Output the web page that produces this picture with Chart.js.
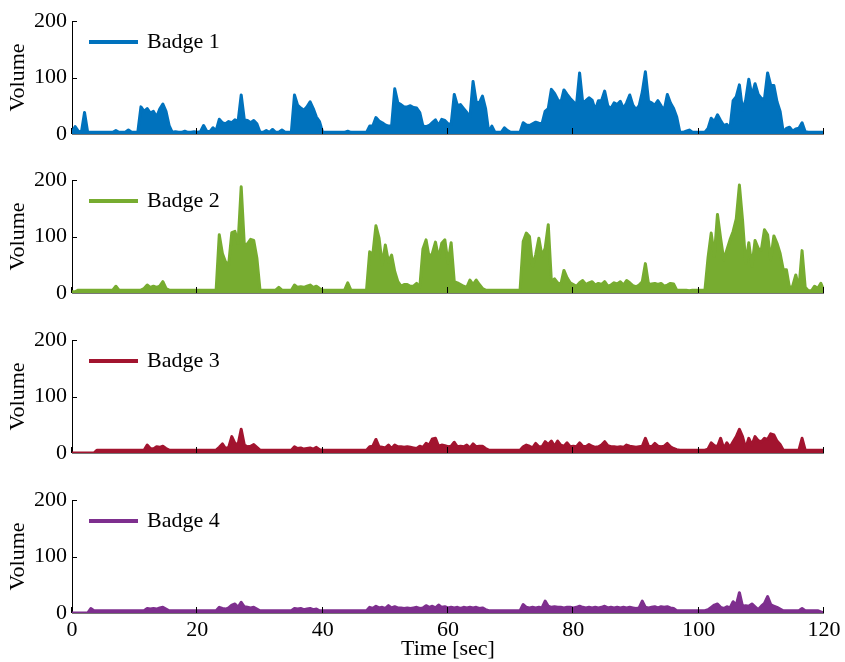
<!DOCTYPE html>
<html>
<head>
<meta charset="utf-8">
<title>Badge volume</title>
<script src="https://cdn.jsdelivr.net/npm/chart.js@4.4.1/dist/chart.umd.min.js"></script>
<style>
  body { margin: 0; background: #fff; }
  #wrap { position: relative; width: 845px; height: 662px; overflow: hidden; }
  #wrap canvas { position: absolute; left: 0; }
</style>
</head>
<body>
<div id="wrap"></div>
<script>
// one sample every 0.5 s, 0..120 s
const times = Array.from({ length: 241 }, (_, i) => i * 0.5);
const xTicks = [0, 20, 40, 60, 80, 100, 120];
const yTicks = [0, 100, 200];

const badgeNames = ["Badge 1", "Badge 2", "Badge 3", "Badge 4"];
const badgeColors = ["#0072BD", "#77AC30", "#A2142F", "#7E2F8E"];

const badge1 = [
  3, 13, 5, 3, 38, 3, 3, 3, 3, 3, 3, 3, 3, 3, 6, 3, 3, 3, 7, 3,
  3, 3, 48, 40, 45, 37, 40, 30, 44, 53, 40, 15, 3, 4, 3, 3, 5, 3, 3, 4,
  3, 4, 15, 5, 4, 11, 6, 26, 20, 18, 22, 20, 25, 22, 69, 25, 24, 20, 24, 18,
  3, 3, 6, 3, 8, 3, 3, 7, 3, 3, 3, 69, 51, 46, 42, 48, 57, 45, 30, 22,
  3, 3, 3, 3, 3, 3, 3, 3, 5, 3, 3, 3, 3, 3, 3, 14, 14, 29, 23, 20,
  16, 14, 14, 80, 55, 52, 48, 48, 50, 47, 46, 38, 14, 13, 15, 20, 25, 15, 26, 24,
  18, 17, 70, 50, 52, 45, 38, 30, 93, 57, 55, 67, 45, 3, 14, 3, 3, 3, 11, 6,
  3, 3, 3, 3, 20, 16, 15, 18, 21, 19, 18, 40, 45, 79, 72, 61, 55, 78, 70, 63,
  57, 51, 108, 55, 59, 64, 60, 42, 59, 59, 76, 50, 45, 55, 52, 58, 45, 55, 69, 51,
  43, 50, 74, 110, 58, 55, 51, 59, 50, 42, 70, 55, 45, 30, 3, 3, 5, 7, 3, 3,
  3, 3, 3, 10, 28, 22, 34, 24, 15, 17, 10, 59, 66, 87, 42, 60, 97, 67, 89, 70,
  63, 62, 108, 86, 86, 57, 40, 3, 10, 12, 5, 9, 10, 20, 4, 3, 3, 3, 3, 3,
  3
];

const badge2 = [
  2, 2, 5, 5, 5, 5, 5, 5, 5, 5, 5, 5, 5, 5, 12, 5, 5, 5, 5, 5,
  5, 5, 5, 8, 14, 10, 12, 10, 12, 20, 8, 5, 5, 5, 5, 5, 5, 5, 5, 5,
  5, 5, 5, 5, 5, 5, 5, 103, 70, 55, 50, 107, 109, 88, 188, 85, 87, 95, 93, 62,
  5, 5, 5, 5, 5, 5, 10, 5, 5, 5, 5, 14, 10, 11, 10, 12, 14, 10, 12, 8,
  5, 5, 5, 5, 5, 5, 5, 5, 18, 5, 5, 5, 5, 5, 5, 73, 68, 119, 97, 50,
  85, 55, 67, 38, 20, 12, 15, 15, 12, 12, 17, 10, 78, 94, 63, 70, 90, 61, 88, 94,
  53, 89, 20, 18, 15, 12, 10, 23, 15, 23, 15, 8, 5, 5, 5, 5, 5, 5, 5, 5,
  5, 5, 5, 5, 91, 106, 100, 47, 68, 97, 65, 79, 121, 20, 25, 18, 15, 40, 27, 18,
  15, 12, 18, 22, 15, 18, 20, 14, 17, 15, 20, 12, 14, 18, 16, 20, 14, 22, 18, 13,
  11, 14, 20, 52, 15, 16, 17, 15, 17, 12, 14, 17, 16, 5, 5, 5, 5, 4, 5, 5,
  5, 5, 5, 63, 106, 65, 139, 97, 59, 76, 94, 109, 131, 191, 129, 52, 89, 47, 93, 79,
  76, 112, 103, 59, 101, 88, 70, 41, 41, 9, 12, 32, 8, 75, 10, 4, 4, 12, 8, 17,
  4
];

const badge3 = [
  0, 0, 0, 0, 0, 0, 0, 0, 5, 5, 5, 5, 5, 5, 5, 5, 5, 5, 5, 5,
  5, 5, 5, 5, 14, 8, 7, 11, 10, 12, 8, 5, 5, 5, 5, 5, 5, 5, 5, 5,
  5, 5, 5, 5, 5, 5, 5, 10, 16, 8, 10, 29, 17, 15, 42, 14, 11, 12, 15, 10,
  5, 5, 5, 5, 5, 5, 5, 5, 5, 5, 5, 11, 8, 9, 7, 8, 9, 7, 10, 6,
  5, 5, 5, 5, 5, 5, 5, 5, 5, 5, 5, 5, 5, 5, 5, 11, 12, 24, 11, 10,
  9, 14, 8, 14, 11, 11, 10, 11, 10, 9, 8, 12, 10, 17, 14, 25, 26, 12, 14, 13,
  11, 12, 19, 11, 12, 11, 14, 9, 16, 11, 12, 12, 8, 5, 5, 5, 5, 5, 5, 5,
  5, 5, 5, 5, 11, 14, 12, 9, 17, 11, 11, 20, 15, 21, 12, 21, 14, 12, 18, 11,
  12, 11, 18, 12, 11, 15, 12, 10, 11, 14, 20, 13, 11, 11, 10, 11, 10, 14, 12, 11,
  10, 11, 12, 26, 12, 11, 17, 12, 11, 12, 17, 11, 8, 6, 5, 5, 5, 5, 5, 5,
  5, 5, 5, 7, 18, 13, 11, 26, 8, 18, 10, 20, 29, 42, 29, 8, 26, 14, 29, 22,
  20, 26, 24, 34, 32, 21, 15, 5, 5, 5, 5, 5, 5, 26, 5, 5, 5, 5, 5, 5,
  5
];

const badge4 = [
  0, 0, 0, 0, 0, 0, 8, 4, 4, 4, 4, 4, 4, 4, 4, 4, 4, 4, 4, 4,
  4, 4, 4, 4, 8, 7, 8, 7, 9, 10, 7, 4, 4, 4, 4, 4, 4, 4, 4, 4,
  4, 4, 4, 4, 4, 4, 4, 10, 8, 7, 9, 14, 16, 10, 19, 11, 10, 9, 10, 7,
  4, 4, 4, 4, 4, 4, 4, 4, 4, 4, 4, 8, 7, 8, 6, 7, 8, 6, 7, 4,
  4, 4, 4, 4, 4, 4, 4, 4, 4, 4, 4, 4, 4, 4, 4, 10, 8, 12, 9, 10,
  8, 13, 9, 11, 9, 9, 8, 9, 8, 9, 10, 8, 9, 13, 10, 12, 9, 14, 10, 11,
  9, 10, 9, 10, 8, 10, 9, 10, 9, 10, 8, 9, 6, 4, 4, 4, 4, 4, 4, 4,
  4, 4, 4, 4, 15, 10, 9, 10, 9, 10, 9, 21, 12, 10, 11, 10, 10, 9, 10, 10,
  9, 10, 12, 10, 9, 10, 9, 10, 9, 10, 12, 9, 10, 9, 10, 9, 10, 9, 10, 9,
  8, 9, 21, 10, 9, 10, 11, 9, 11, 10, 11, 9, 8, 4, 4, 4, 4, 4, 4, 4,
  4, 4, 4, 6, 10, 14, 16, 10, 8, 11, 9, 20, 14, 36, 12, 13, 12, 16, 11, 6,
  12, 17, 29, 15, 12, 10, 7, 4, 4, 4, 4, 4, 4, 8, 4, 4, 4, 4, 4, 2,
  0
];

const badgeSeries = [badge1, badge2, badge3, badge4];

Chart.defaults.font.family = '"Liberation Serif", "Times New Roman", serif';
Chart.defaults.font.size = 22;
Chart.defaults.color = "#000";

// inward tick marks and the zero line, drawn over the data
const axisMarks = {
  id: "axisMarks",
  afterDatasetsDraw(chart) {
    const { ctx, chartArea, scales } = chart;
    ctx.save();
    ctx.strokeStyle = "#000";
    ctx.lineWidth = 1;
    ctx.beginPath();
    yTicks.forEach(v => {
      const py = Math.round(scales.y.getPixelForValue(v)) + 0.5;
      ctx.moveTo(chartArea.left, py);
      ctx.lineTo(chartArea.left + 5, py);
    });
    xTicks.forEach(v => {
      const px = Math.round(scales.x.getPixelForValue(v)) - 0.5;
      ctx.moveTo(px, chartArea.bottom);
      ctx.lineTo(px, chartArea.bottom - 6);
    });
    ctx.stroke();
    ctx.strokeStyle = "#777";
    ctx.beginPath();
    const py0 = Math.round(chartArea.bottom) + 0.5;
    ctx.moveTo(chartArea.left, py0);
    ctx.lineTo(chartArea.right, py0);
    ctx.stroke();
    ctx.restore();
  }
};

// small legend in the upper left corner of each panel
const badgeLegend = {
  id: "badgeLegend",
  afterDatasetsDraw(chart) {
    const { ctx, chartArea } = chart;
    const ds = chart.data.datasets[0];
    const y = chartArea.top + 21;
    ctx.save();
    ctx.strokeStyle = ds.borderColor;
    ctx.lineWidth = 4;
    ctx.beginPath();
    ctx.moveTo(chartArea.left + 17, y);
    ctx.lineTo(chartArea.left + 66, y);
    ctx.stroke();
    ctx.fillStyle = "#000";
    ctx.font = '22px "Liberation Serif", "Times New Roman", serif';
    ctx.textBaseline = "middle";
    ctx.fillText(ds.label, chartArea.left + 75, y);
    ctx.restore();
  }
};

const wrap = document.getElementById("wrap");
// top edge of each plot area (value 200); every plot is 113 px tall
const plotTops = [21, 180, 340, 500];
const plotHeight = 113;
const pad = 24;

badgeSeries.forEach((values, k) => {
  const isLast = k === badgeSeries.length - 1;
  const canvas = document.createElement("canvas");
  canvas.width = 845;
  canvas.height = isLast ? 662 - (plotTops[k] - pad) : pad * 2 + plotHeight;
  canvas.style.top = (plotTops[k] - pad) + "px";
  wrap.appendChild(canvas);

  new Chart(canvas, {
    type: "line",
    data: {
      datasets: [{
        label: badgeNames[k],
        data: times.map((t, i) => ({ x: t, y: values[i] })),
        borderColor: badgeColors[k],
        backgroundColor: badgeColors[k],
        borderWidth: 3,
        borderJoinStyle: "round",
        fill: "origin",
        pointRadius: 0,
        tension: 0
      }]
    },
    options: {
      responsive: false,
      animation: false,
      layout: { padding: { top: pad, bottom: isLast ? 0 : pad, left: 0, right: 21 } },
      plugins: {
        legend: { display: false },
        tooltip: { enabled: false }
      },
      scales: {
        x: {
          type: "linear",
          min: 0,
          max: 120,
          grid: { display: false, drawTicks: false },
          border: { display: false },
          ticks: { display: isLast, stepSize: 20, padding: 4, maxRotation: 0 },
          title: { display: isLast, text: "Time [sec]", padding: { top: 0, bottom: 0 } },
          afterFit: s => { s.height = isLast ? 662 - (plotTops[k] + plotHeight) : 0; }
        },
        y: {
          min: 0,
          max: 200,
          grid: { display: false, drawTicks: false },
          border: { display: true, color: "#000", width: 1 },
          ticks: { stepSize: 100, padding: 5 },
          title: { display: true, text: "Volume", padding: { top: 5, bottom: 0 } },
          afterFit: s => { s.width = 72; }
        }
      }
    },
    plugins: [axisMarks, badgeLegend]
  });
});
</script>
</body>
</html>
